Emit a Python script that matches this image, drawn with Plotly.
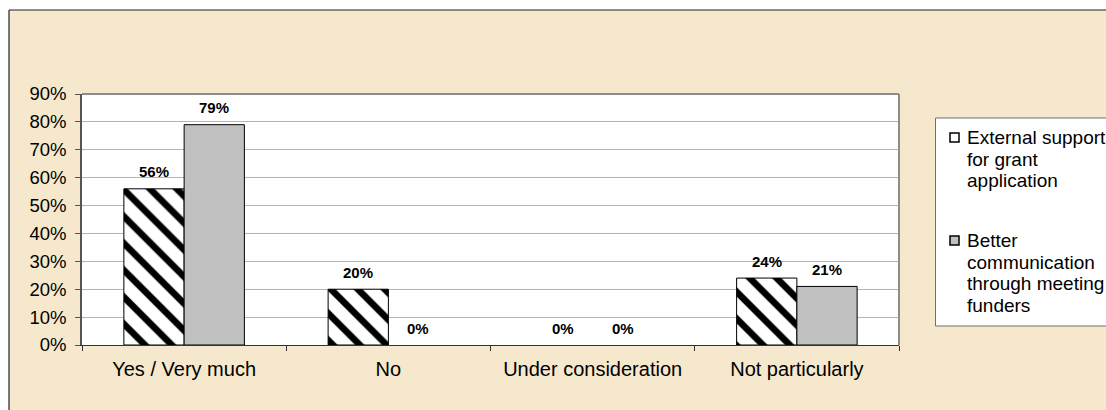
import plotly.graph_objects as go

categories = ["Yes / Very much", "No", "Under consideration", "Not particularly"]
series_names = ["External support for grant application",
                "Better communication through meeting funders"]
external_support = [0.56, 0.20, 0.00, 0.24]
better_communication = [0.79, 0.00, 0.00, 0.21]
legend_lines = [["External support", "for grant", "application"],
                ["Better", "communication", "through meeting", "funders"]]

W, H = 1106, 410
L, R, T, B = 82, 207, 94, 65
PW, PH = W - L - R, H - T - B


def X(px):
    return (px - L) / PW


def Y(py):
    return 1 - (py - T) / PH


PARCH = "#f6e8cc"
FONT = "Liberation Sans, Arial, sans-serif"


def outline_widths(vals):
    return [1 if v > 0 else 0 for v in vals]


fig = go.Figure()
fig.add_trace(go.Bar(
    x=categories, y=external_support, name=series_names[0],
    marker=dict(color="white", line=dict(color="black", width=outline_widths(external_support)),
                pattern=dict(shape="\\", fgcolor="black", bgcolor="white",
                             size=19, solidity=0.35, fillmode="replace")),
    showlegend=False,
))
fig.add_trace(go.Bar(
    x=categories, y=better_communication, name=series_names[1],
    marker=dict(color="#c0c0c0", line=dict(color="black", width=outline_widths(better_communication))),
    showlegend=False,
))

annotations = []
for vals, shift in ((external_support, -30), (better_communication, 30)):
    for c, v in zip(categories, vals):
        annotations.append(dict(
            x=c, y=v, xref="x", yref="y", text=f"{round(v * 100)}%",
            showarrow=False, xshift=shift, yshift=17, yanchor="middle",
            font=dict(family=FONT, size=15, color="black", weight="bold"),
        ))

shapes = [
    dict(type="rect", xref="paper", yref="paper", x0=X(-5), x1=X(W + 5),
         y0=Y(10), y1=Y(-5), fillcolor="white", line=dict(width=0), layer="below"),
    dict(type="rect", xref="paper", yref="paper", x0=X(-5), x1=X(9),
         y0=Y(H + 5), y1=Y(-5), fillcolor="white", line=dict(width=0), layer="below"),
    dict(type="line", xref="paper", yref="paper", x0=X(9), x1=X(W + 5),
         y0=Y(10), y1=Y(10), line=dict(color="#222", width=1.2)),
    dict(type="line", xref="paper", yref="paper", x0=X(9), x1=X(9),
         y0=Y(10), y1=Y(H + 5), line=dict(color="#222", width=1.2)),
    dict(type="line", xref="paper", yref="paper", x0=0, x1=1, y0=1, y1=1,
         line=dict(color="#8c8c8c", width=2)),
    dict(type="line", xref="paper", yref="paper", x0=1, x1=1, y0=0, y1=1,
         line=dict(color="#8c8c8c", width=2)),
    dict(type="rect", xref="paper", yref="paper", x0=X(935.5), x1=X(W + 20),
         y0=Y(326), y1=Y(118), fillcolor="white", line=dict(color="#707070", width=1)),
    dict(type="rect", xref="paper", yref="paper", x0=X(950), x1=X(959),
         y0=Y(142), y1=Y(133), fillcolor="white", line=dict(color="black", width=1.5)),
    dict(type="rect", xref="paper", yref="paper", x0=X(950), x1=X(959),
         y0=Y(245), y1=Y(236), fillcolor="#c0c0c0", line=dict(color="black", width=1.5)),
]

line_tops = [137.5, 240.5]
for lines, y0 in zip(legend_lines, line_tops):
    for i, t in enumerate(lines):
        annotations.append(dict(
            x=X(965), y=Y(y0 + i * 21.5), xref="paper", yref="paper",
            text=t, showarrow=False, xanchor="left", yanchor="middle",
            font=dict(family=FONT, size=19, color="black"),
        ))

fig.update_layout(
    width=W, height=H,
    margin=dict(l=L, r=R, t=T, b=B, autoexpand=False),
    paper_bgcolor=PARCH, plot_bgcolor="white",
    barmode="group", bargap=0.41, bargroupgap=0,
    font=dict(family=FONT, size=18, color="black"),
    annotations=annotations, shapes=shapes,
    showlegend=False,
)
fig.update_xaxes(
    type="category", showline=True, linecolor="#333", linewidth=1.2,
    ticks="outside", tickson="boundaries", ticklen=5, tickcolor="#333",
    ticklabelstandoff=6,
    showgrid=False, tickfont=dict(family=FONT, size=20, color="black"),
    automargin=False, fixedrange=True,
)
fig.update_yaxes(
    range=[0, 0.9], dtick=0.1, tickformat=".0%", showline=True,
    linecolor="#555", linewidth=1.5, ticks="outside", ticklen=5, tickcolor="#555",
    ticklabelstandoff=5,
    showgrid=True, gridcolor="#b4b4b4", gridwidth=1, zeroline=False,
    tickfont=dict(family=FONT, size=18.5, color="black"),
    automargin=False, fixedrange=True,
)

fig.write_html("out.html", config={"displayModeBar": False})
